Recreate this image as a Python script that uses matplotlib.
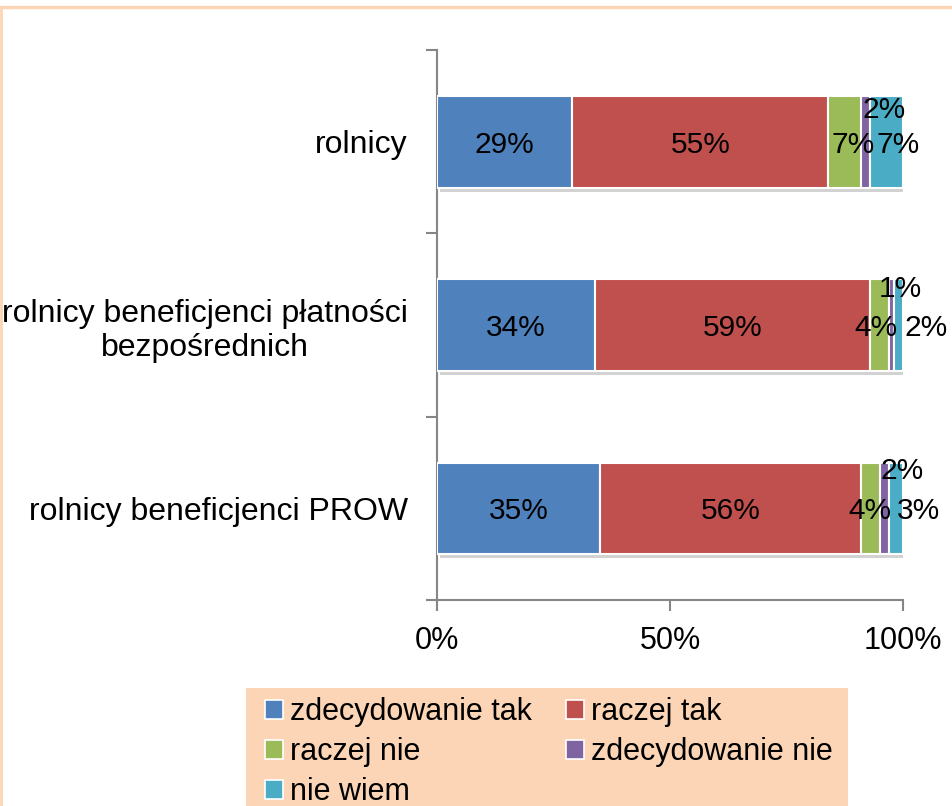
import matplotlib
matplotlib.use('Agg')
import matplotlib.pyplot as plt
import matplotlib.patheffects as pe
from matplotlib.patches import Rectangle
from matplotlib.lines import Line2D
import numpy as np

plt.rcParams['font.family'] = ['Liberation Sans', 'DejaVu Sans']

categories = ['rolnicy',
              'rolnicy beneficjenci płatności\nbezpośrednich',
              'rolnicy beneficjenci PROW']
series = ['zdecydowanie tak', 'raczej tak', 'raczej nie', 'zdecydowanie nie', 'nie wiem']
zdecydowanie_tak = [29, 34, 35]
raczej_tak = [55, 59, 56]
raczej_nie = [7, 4, 4]
zdecydowanie_nie = [2, 1, 2]
nie_wiem = [7, 2, 3]
xticks = [0, 50, 100]
xtick_labels = ['0%', '50%', '100%']

colors = ['#4F81BD', '#C0504D', '#9BBB59', '#8064A2', '#4BACC6']
# label shifts (pixels) for small segments, like the original layout
shifts = {
    (0, 2): (8, 0), (0, 3): (18, -35), (0, 4): (11, 0),
    (1, 2): (-4, 0), (1, 3): (9, -39), (1, 4): (28, 0),
    (2, 2): (0, 0), (2, 3): (18, -40), (2, 4): (22, 0),
}

data = np.array([zdecydowanie_tak, raczej_tak, raczej_nie, zdecydowanie_nie, nie_wiem], dtype=float)
ypos = np.arange(len(categories))

fig = plt.figure(figsize=(9.53, 8.06), dpi=100)
ax = fig.add_axes([437 / 953, 1 - 600 / 806, 466 / 953, 550 / 806])

left = np.zeros(len(categories))
shadow = [pe.SimplePatchShadow(offset=(2, -3), shadow_rgbFace='#808080', alpha=0.35), pe.Normal()]
for k, name in enumerate(series):
    bars = ax.barh(ypos, data[k], left=left, height=0.5, color=colors[k],
                   edgecolor='white', linewidth=1.5, label=name, zorder=3)
    for b in bars:
        b.set_path_effects(shadow)
    for i in range(len(categories)):
        cx = left[i] + data[k, i] / 2
        dx, dy = shifts.get((i, k), (0, 0))
        dy += 3
        ax.annotate(f'{int(data[k, i])}%', (cx, ypos[i]), xytext=(dx * 0.72, -dy * 0.72),
                    textcoords='offset points', ha='center', va='center',
                    fontsize=21.5, color='black', zorder=5)
    left += data[k]

ax.set_xlim(0, 100)
ax.set_ylim(len(categories) - 0.5, -0.5)
ax.set_xticks(xticks)
ax.set_xticklabels(xtick_labels, fontsize=22)
ax.set_yticks(ypos)
ax.set_yticklabels(categories, fontsize=23, multialignment='center')
ax.set_yticks(np.arange(len(categories) + 1) - 0.5, minor=True)
ax.tick_params(axis='y', which='major', length=0, pad=21)
ax.tick_params(axis='y', which='minor', length=8, width=1.5, color='#868686', direction='out')
ax.tick_params(axis='x', length=8, width=1.5, color='#868686', pad=11)
for s in ['top', 'right']:
    ax.spines[s].set_visible(False)
for s in ['left', 'bottom']:
    ax.spines[s].set_color('#868686')
    ax.spines[s].set_linewidth(1.5)

# legend with peach background
peach = '#FBD5B5'
fig.patches.append(Rectangle((246 / 953, 0), (848 - 246) / 953, (806 - 688) / 806,
                             transform=fig.transFigure, facecolor=peach, edgecolor='none', zorder=0))
order = [0, 2, 4, 1, 3]
leg_handles = [Rectangle((0, 0), 1, 1, facecolor=colors[i], edgecolor='white', linewidth=1.2) for i in order]
fig.legend(leg_handles, [series[i] for i in order], ncol=2, frameon=False,
           loc='upper left', bbox_to_anchor=(265 / 953, 1 - 697 / 806),
           fontsize=22, handlelength=0.6, handleheight=0.6, handletextpad=0.22,
           columnspacing=1.12, labelspacing=0.33, borderpad=0, borderaxespad=0)

# thin peach border at top and left
fig.add_artist(Line2D([0, 1], [1 - 7 / 806, 1 - 7 / 806], transform=fig.transFigure, color=peach, lw=2.5))
fig.add_artist(Line2D([1 / 953, 1 / 953], [0, 1 - 7 / 806], transform=fig.transFigure, color=peach, lw=2))

fig.savefig('out.png', dpi=100)
